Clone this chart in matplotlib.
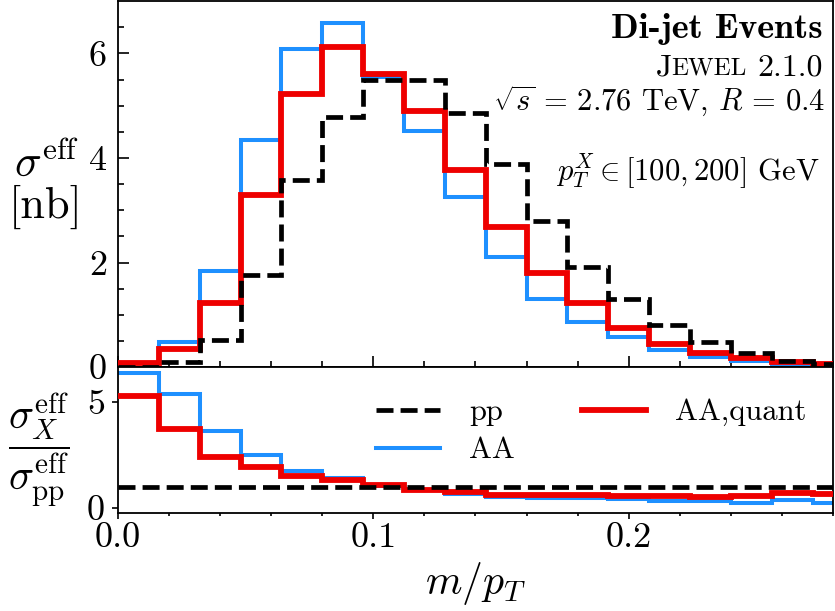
import numpy as np
import matplotlib
matplotlib.use('Agg')
import matplotlib.pyplot as plt

plt.rcParams['font.family'] = 'serif'
plt.rcParams['font.serif'] = ['cmr10']
plt.rcParams['mathtext.fontset'] = 'cm'
plt.rcParams['axes.formatter.use_mathtext'] = True

# bin edges in m/pT
edges = np.arange(19) * 0.016

# effective cross sections [nb]
sig_pp = [0.01, 0.10, 0.51, 1.76, 3.58, 4.79, 5.49, 5.50, 4.86, 3.89,
          2.80, 1.92, 1.30, 0.80, 0.47, 0.26, 0.12, 0.06]
sig_aa = [0.08, 0.48, 1.84, 4.34, 6.08, 6.59, 5.55, 4.52, 3.26, 2.10,
          1.31, 0.86, 0.57, 0.32, 0.19, 0.12, 0.06, 0.03]
sig_quant = [0.07, 0.35, 1.23, 3.29, 5.22, 6.12, 5.61, 4.89, 3.77, 2.68,
             1.80, 1.23, 0.74, 0.45, 0.27, 0.18, 0.10, 0.06]

# ratios to pp
rat_pp = [1.0] * 18
rat_aa = [6.39, 5.38, 3.64, 2.49, 1.73, 1.42, 1.02, 0.82, 0.67, 0.51,
          0.45, 0.44, 0.39, 0.31, 0.31, 0.23, 0.35, 0.23]
rat_quant = [5.27, 3.73, 2.42, 1.91, 1.50, 1.31, 1.05, 0.86, 0.72, 0.62,
             0.59, 0.59, 0.55, 0.55, 0.50, 0.56, 0.69, 0.64]

c_pp = 'black'
c_aa = '#1e90ff'
c_q = '#ee0000'
dash = (0, (3.6, 1.5))

fig = plt.figure(figsize=(8.35, 6.11), dpi=100)
ax = fig.add_axes([0.1413, 0.3993, 0.8563, 0.5987])
ax2 = fig.add_axes([0.1413, 0.1604, 0.8563, 0.2389], sharex=ax)

ax.stairs(sig_aa, edges, baseline=None, color=c_aa, lw=2.9, zorder=2)
ax.stairs(sig_quant, edges, baseline=None, color=c_q, lw=4.2, zorder=3)
ax.stairs(sig_pp, edges, baseline=None, color=c_pp, lw=3.4, ls=dash, zorder=4)

ax2.stairs(rat_aa, edges, baseline=None, color=c_aa, lw=2.9, zorder=2, label='AA')
ax2.stairs(rat_quant, edges, baseline=None, color=c_q, lw=4.2, zorder=3, label='AA,quant')
ax2.stairs(rat_pp, edges, baseline=None, color=c_pp, lw=3.4, ls=dash, zorder=4, label='pp')

ax.set_xlim(0, 0.274)
ax.set_ylim(0, 7)
ax2.set_ylim(-0.25, 6.65)

for a in (ax, ax2):
    for s in a.spines.values():
        s.set_linewidth(1.3)

ax.set_yticks([0, 2, 4, 6])
ax.set_yticks(np.arange(0, 7, 0.5), minor=True)
ax.set_xticks([0.0, 0.1, 0.2])
ax.set_xticks(np.arange(0, 0.28, 0.02), minor=True)
ax.tick_params(axis='both', which='both', direction='in', labelsize=26, width=1.2)
ax.tick_params(axis='y', which='major', length=8, pad=8)
ax.tick_params(axis='y', which='minor', length=4.5)
ax.tick_params(axis='x', which='major', length=8, labelbottom=False)
ax.tick_params(axis='x', which='minor', length=4.5)

ax2.set_yticks([0, 5])
ax2.tick_params(axis='both', which='both', direction='out', labelsize=26, width=1.2)
ax2.tick_params(axis='y', which='major', length=4.5, pad=5)
ax2.tick_params(axis='x', which='major', length=4, pad=3)
ax2.tick_params(axis='x', which='minor', length=2)
ax2.xaxis.set_major_formatter(matplotlib.ticker.FormatStrFormatter('%.1f'))

# annotations
ax.text(0.986, 0.899, 'Di-jet Events', ha='right', va='baseline',
        fontsize=26, family='cmb10', transform=ax.transAxes)
t1 = ax.text(0.986, 0.798, '2.1.0', ha='right', va='baseline', fontsize=23,
             transform=ax.transAxes)
t2 = ax.annotate('EWEL', xy=(0, 0), xycoords=t1, xytext=(-7.5, 1.3),
                 textcoords='offset points', ha='right', va='bottom', fontsize=18)
ax.annotate('J', xy=(0, 0), xycoords=t2, xytext=(0, -1.3),
            textcoords='offset points', ha='right', va='bottom', fontsize=23)
ax.text(0.989, 0.699, r'$\sqrt{s}\,=\,2.76$ TeV, $R\,=\,0.4$', ha='right', va='baseline',
        fontsize=22, transform=ax.transAxes)
ax.text(0.982, 0.511, r'$p_T^X\in[100,200]$ GeV', ha='right', va='baseline',
        fontsize=22, transform=ax.transAxes)

fig.text(0.055, 0.697, r'$\sigma^{\mathrm{eff}}$' + '\n[nb]', ha='center', va='center',
         fontsize=32, multialignment='center', linespacing=1.0)
fig.text(0.047, 1 - 450 / 611, r'$\dfrac{\sigma_X^{\mathrm{eff}}}{\sigma_{\mathrm{pp}}^{\mathrm{eff}}}$',
         ha='center', va='center', fontsize=30)
ax2.set_xlabel(r'$m/p_T$', fontsize=30, labelpad=4)

h, l = ax2.get_legend_handles_labels()
order = [2, 0, 1]
ax2.legend([h[i] for i in order], [l[i] for i in order], ncol=2, frameon=False,
           fontsize=22, loc='center', bbox_to_anchor=(0.662, 0.558),
           handlelength=2.1, handletextpad=0.95, columnspacing=2.2,
           labelspacing=0.35, borderpad=0, borderaxespad=0)

fig.savefig('out.png', dpi=100)
